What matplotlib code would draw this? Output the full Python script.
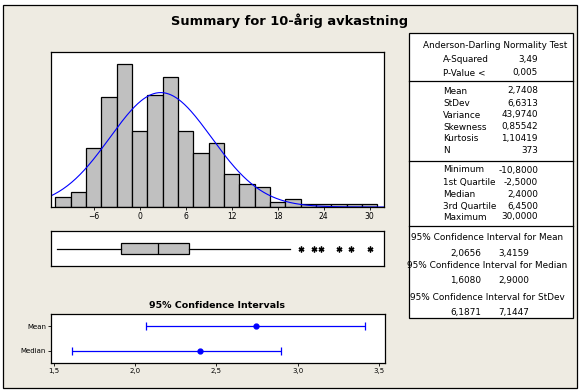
import numpy as np
import matplotlib.pyplot as plt
from matplotlib.patches import Rectangle
from matplotlib.lines import Line2D

# Histogram of 10-year returns (bin edges and counts)
bin_edges = [-11, -9, -7, -5, -3, -1, 1, 3, 5, 7, 9, 11, 13, 15, 17, 19, 21, 23, 25, 27, 29, 31]
counts = [4, 6, 23, 43, 56, 30, 44, 51, 30, 21, 25, 13, 9, 8, 2, 3, 1, 1, 1, 1, 1]
hist_ticks = [-6, 0, 6, 12, 18, 24, 30]

# Summary statistics
mean = 2.7408
stdev = 6.6313
n = 373
minimum = -10.8
q1 = -2.5
median = 2.4
q3 = 6.45
maximum = 30.0
upper_whisker = 19.6
outliers = [21.0, 22.8, 23.6, 26.0, 27.6, 30.0]

# 95% confidence intervals
ci_labels = ["Mean", "Median"]
ci_centers = [2.7408, 2.4]
ci_low = [2.0656, 1.6080]
ci_high = [3.4159, 2.9000]
ci_ticks = [1.5, 2.0, 2.5, 3.0, 3.5]
ci_ticklabels = ["1,5", "2,0", "2,5", "3,0", "3,5"]

# Table on the right
ad_rows = [("A-Squared", "3,49"), ("P-Value <", "0,005")]
moment_rows = [("Mean", "2,7408"), ("StDev", "6,6313"), ("Variance", "43,9740"),
               ("Skewness", "0,85542"), ("Kurtosis", "1,10419"), ("N", "373")]
quantile_rows = [("Minimum", "-10,8000"), ("1st Quartile", "-2,5000"), ("Median", "2,4000"),
                 ("3rd Quartile", "6,4500"), ("Maximum", "30,0000")]
ci_rows = [("95% Confidence Interval for Mean", "2,0656", "3,4159"),
           ("95% Confidence Interval for Median", "1,6080", "2,9000"),
           ("95% Confidence Interval for StDev", "6,1871", "7,1447")]

W, H = 583, 392
bg = "#eeebe2"
blue = "#0000ff"
grey = "#c0c0c0"

fig = plt.figure(figsize=(W / 100, H / 100), dpi=100)
fig.patch.set_facecolor("white")


def px_axes(left, top, right, bottom):
    return fig.add_axes([left / W, 1 - bottom / H, (right - left) / W, (bottom - top) / H])


def fx(x):
    return x / W


def fy(y):
    return 1 - y / H


# outer frame
fig.patches.append(Rectangle((fx(3), fy(388)), fx(574), (388 - 5) / H, transform=fig.transFigure,
                             facecolor=bg, edgecolor="black", linewidth=0.9, zorder=-10))

fig.text(fx(290), fy(21), "Summary for 10-årig avkastning", ha="center", va="center",
         fontsize=9.4, fontweight="bold")

# histogram
ax = px_axes(51, 52, 384, 207)
widths = np.diff(bin_edges)
ax.bar(bin_edges[:-1], counts, width=widths, align="edge", color=grey, edgecolor="black", linewidth=0.9)
xs = np.linspace(-11.6, 31.9, 400)
pdf = n * 2 * np.exp(-0.5 * ((xs - mean) / stdev) ** 2) / (stdev * np.sqrt(2 * np.pi))
ax.plot(xs, pdf, color=blue, linewidth=0.8)
ax.set_xlim(-11.57, 31.87)
ax.set_ylim(0, 60.8)
ax.set_yticks([])
ax.set_xticks(hist_ticks)
ax.tick_params(axis="x", labelsize=5.5, length=2, width=0.6, pad=1.5)

# boxplot
axb = px_axes(51, 231, 384, 266)
stats = [{"med": median, "q1": q1, "q3": q3, "whislo": minimum, "whishi": upper_whisker,
          "fliers": outliers}]
axb.bxp(stats, orientation="horizontal", widths=0.34, patch_artist=True, showcaps=False,
        boxprops=dict(facecolor=grey, edgecolor="black", linewidth=0.9),
        medianprops=dict(color="black", linewidth=0.9),
        whiskerprops=dict(color="black", linewidth=0.9),
        flierprops=dict(marker=(6, 2, 0), markersize=4.2, markeredgecolor="black",
                        markeredgewidth=1.0, linestyle="none"))
axb.set_xlim(-11.57, 31.87)
axb.set_ylim(0.5, 1.5)
axb.set_xticks([])
axb.set_yticks([])

# confidence intervals
axc = px_axes(51, 314, 385, 363)
ypos = [2, 1]
for y, c, lo, hi in zip(ypos, ci_centers, ci_low, ci_high):
    axc.errorbar([c], [y], xerr=[[c - lo], [hi - c]], fmt="o", color=blue, markersize=3.5,
                 capsize=3, elinewidth=0.9, capthick=0.9)
axc.set_xlim(1.4815, 3.537)
axc.set_ylim(0.5, 2.5)
axc.set_yticks(ypos)
axc.set_yticklabels(ci_labels)
axc.set_xticks(ci_ticks)
axc.set_xticklabels(ci_ticklabels)
axc.tick_params(labelsize=5, length=2, width=0.6, pad=1.5)
fig.text(fx(217), fy(306), "95% Confidence Intervals", ha="center", va="center",
         fontsize=6.8, fontweight="bold")

for a in (ax, axb, axc):
    for s in a.spines.values():
        s.set_linewidth(0.9)

# statistics table
fig.patches.append(Rectangle((fx(409), fy(318)), fx(164), (318 - 33) / H, transform=fig.transFigure,
                             facecolor="white", edgecolor="black", linewidth=0.9, zorder=1))
for y in (80.7, 160.7, 226.5):
    fig.lines.append(Line2D([fx(409), fx(573)], [fy(y), fy(y)], transform=fig.transFigure,
                            color="black", linewidth=0.9, zorder=2))

fs = 6.4
lab_x = 443
val_x = 538
fig.text(fx(495), fy(45), "Anderson-Darling Normality Test", ha="center", va="center", fontsize=fs)
row_y = [59.5, 73]
for (lab, val), y in zip(ad_rows, row_y):
    fig.text(fx(lab_x), fy(y), lab, ha="left", va="center", fontsize=fs)
    fig.text(fx(val_x), fy(y), val, ha="right", va="center", fontsize=fs)
row_y = [91, 103.5, 115, 127, 138.7, 150.3]
for (lab, val), y in zip(moment_rows, row_y):
    fig.text(fx(lab_x), fy(y), lab, ha="left", va="center", fontsize=fs)
    fig.text(fx(val_x), fy(y), val, ha="right", va="center", fontsize=fs)
row_y = [170, 182.5, 194, 206, 217]
for (lab, val), y in zip(quantile_rows, row_y):
    fig.text(fx(lab_x), fy(y), lab, ha="left", va="center", fontsize=fs)
    fig.text(fx(val_x), fy(y), val, ha="right", va="center", fontsize=fs)
row_y = [(238, 253.5), (265, 280), (297.5, 312)]
for (title, lo, hi), (y1, y2) in zip(ci_rows, row_y):
    fig.text(fx(487), fy(y1), title, ha="center", va="center", fontsize=fs)
    fig.text(fx(450), fy(y2), lo, ha="left", va="center", fontsize=fs)
    fig.text(fx(498), fy(y2), hi, ha="left", va="center", fontsize=fs)

fig.savefig("out.png", dpi=100, facecolor=fig.get_facecolor())
